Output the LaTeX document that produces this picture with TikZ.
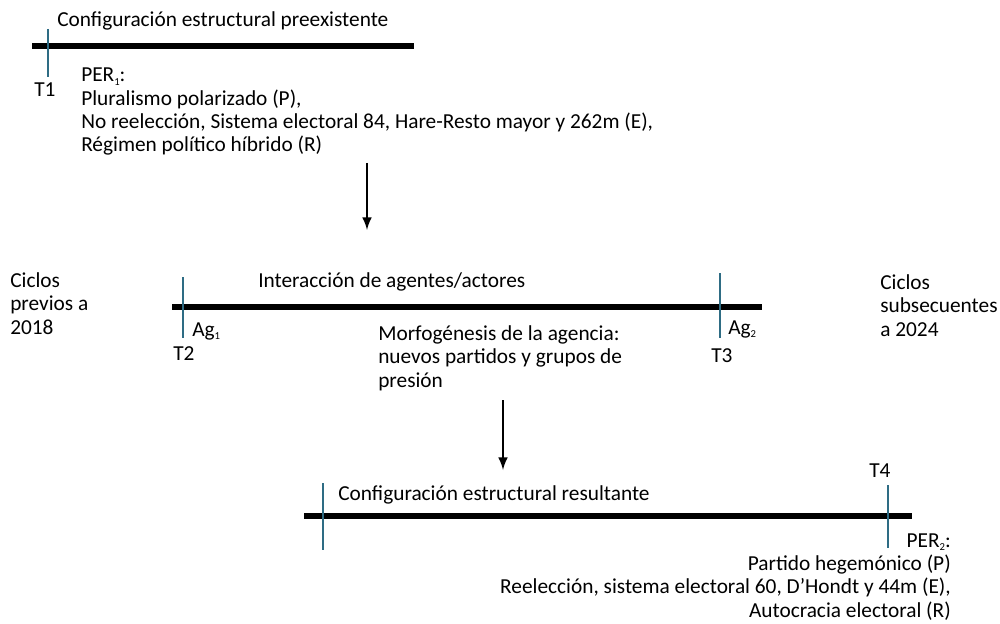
\documentclass[tikz,border=0pt]{standalone}
\usepackage{fontspec}
\setmainfont{Carlito}
\usetikzlibrary{arrows}
\definecolor{tickblue}{RGB}{46,108,132}
\newcommand{\subidx}[1]{\raisebox{-0.35ex}{\fontsize{8}{8}\selectfont #1}}

\begin{document}
\begin{tikzpicture}[x=0.75pt,y=0.75pt,yscale=-1,xscale=1,
  bar/.style={line width=5.2pt},
  tick/.style={color=tickblue,line width=1.1pt},
  txt/.style={anchor=base west,inner sep=0pt,align=left,font=\fontsize{16}{17.5}\selectfont},
  flecha/.style={-latex,line width=2.2pt}]
\useasboundingbox (0,0) rectangle (1000,624);

% Bars
\coordinate (b1a) at (32,46);
\coordinate (b1b) at (414,46);
\coordinate (b2a) at (172,307);
\coordinate (b2b) at (762,307);
\coordinate (b3a) at (304,516);
\coordinate (b3b) at (912,516);
\draw[bar] (b1a) -- (b1b);
\draw[bar] (b2a) -- (b2b);
\draw[bar] (b3a) -- (b3b);

% Ticks
\coordinate (t1a) at (48,29);   \coordinate (t1b) at (48,77);
\coordinate (t2a) at (183,277); \coordinate (t2b) at (183,338);
\coordinate (t3a) at (720,273); \coordinate (t3b) at (720,338);
\coordinate (t4a) at (323,483); \coordinate (t4b) at (323,550);
\coordinate (t5a) at (888,485); \coordinate (t5b) at (888,548);
\draw[tick] (t1a) -- (t1b);
\draw[tick] (t2a) -- (t2b);
\draw[tick] (t3a) -- (t3b);
\draw[tick] (t4a) -- (t4b);
\draw[tick] (t5a) -- (t5b);

% Text Node
\node[txt] (pre) at (57,27) {Configuración estructural preexistente};
% Text Node
\node[txt] (T1) at (34,97) {T1};
% Text Node (anchored at last line)
\node[txt] (per1) at (81,152) {PER\subidx{1}:\\Pluralismo polarizado (P),\\No reelección, Sistema electoral 84, Hare-Resto mayor y 262m (E),\\Régimen político híbrido (R)};
% Text Node
\node[txt] (prev) at (10,334) {Ciclos\\previos a\\2018};
% Text Node
\node[txt] (inter) at (258,287) {Interacción de agentes/actores};
% Text Node
\node[txt] (ag1) at (192,336) {Ag\subidx{1}};
% Text Node
\node[txt] (T2) at (173,360) {T2};
% Text Node
\node[txt] (morf) at (378,387) {Morfogénesis de la agencia:\\nuevos partidos y grupos de\\presión};
% Text Node
\node[txt] (ag2) at (728,334) {Ag\subidx{2}};
% Text Node
\node[txt] (T3) at (711,362) {T3};
% Text Node
\node[txt] (subs) at (880,336) {Ciclos\\subsecuentes\\a 2024};
% Text Node
\node[txt] (res) at (338,500) {Configuración estructural resultante};
% Text Node
\node[txt] (T4) at (869,477) {T4};
% Text Node
\node[txt,anchor=base east,align=right] (per2) at (951,617) {PER\subidx{2}:\\Partido hegemónico (P)\\Reelección, sistema electoral 60, D’Hondt y 44m (E),\\Autocracia electoral (R)};

% Arrows
\coordinate (a1a) at (367,163); \coordinate (a1b) at (367,230);
\coordinate (a2a) at (503,400); \coordinate (a2b) at (503,470);
\draw[flecha] (a1a) -- (a1b);
\draw[flecha] (a2a) -- (a2b);

\end{tikzpicture}
\end{document}
